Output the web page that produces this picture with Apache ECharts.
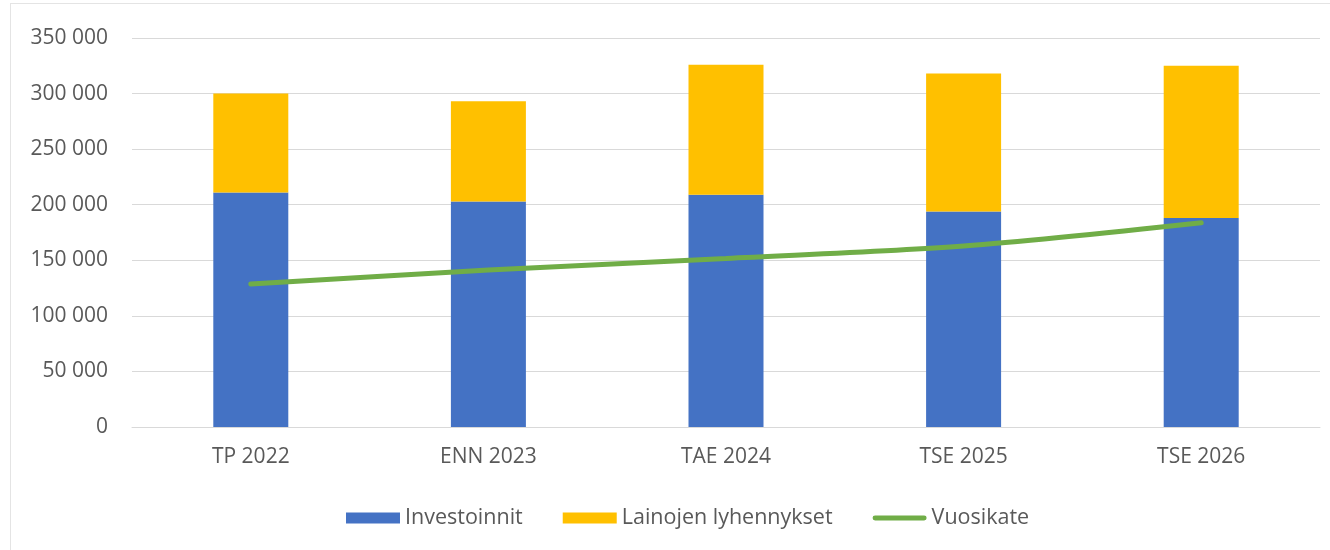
<!DOCTYPE html>
<html>
<head>
  <meta charset="UTF-8">
  <script src="https://cdn.jsdelivr.net/npm/echarts@6/dist/echarts.min.js"></script>
  <style>
    body { margin: 0; background: #fff; }
    #wrap { position: relative; width: 1330px; height: 550px; }
    #frame { position: absolute; left: 10px; top: 3px; right: 0; bottom: 0;
             border-top: 1px solid #e4e4e4; border-left: 1px solid #e4e4e4; }
    #chart { position: absolute; left: 0; top: 0; width: 1330px; height: 550px; }
  </style>
</head>
<body>
  <div id="wrap">
    <div id="frame"></div>
    <div id="chart"></div>
  </div>
  <script>
    var categories = ['TP 2022', 'ENN 2023', 'TAE 2024', 'TSE 2025', 'TSE 2026'];
    var investoinnit = [211000, 203000, 209000, 194000, 188000];
    var lainojenLyhennykset = [89000, 90000, 117000, 124000, 137000];
    var vuosikate = [128600, 141200, 151700, 162800, 183700];

    function fmt(v) {
      return String(v).replace(/\B(?=(\d{3})+(?!\d))/g, ' ');
    }

    // thin line icon for the line series (M points keep the full 54x11 box)
    var lineIcon = 'path://M0,0 M54,11 M2,3 L52,3 A2.5,2.5 0 0 1 52,8 L2,8 A2.5,2.5 0 0 1 2,3 Z';

    var chart = echarts.init(document.getElementById('chart'));
    chart.setOption({
      animation: false,
      textStyle: { fontFamily: 'Open Sans' },
      grid: { left: 132, right: 10, top: 38, bottom: 123 },
      legend: {
        left: 341,
        top: 502,
        itemWidth: 54,
        itemHeight: 11,
        itemGap: 40,
        textStyle: { fontSize: 21.5, color: '#595959', fontFamily: 'Open Sans' },
        data: [
          { name: 'Investoinnit', icon: 'rect' },
          { name: 'Lainojen lyhennykset', icon: 'rect' },
          { name: 'Vuosikate', icon: lineIcon, itemStyle: { color: '#70AD47' } }
        ]
      },
      xAxis: {
        type: 'category',
        data: categories,
        axisTick: { show: false },
        axisLine: { lineStyle: { color: '#d9d9d9', width: 1 } },
        axisLabel: { color: '#595959', fontSize: 21, margin: 20 }
      },
      yAxis: {
        type: 'value',
        min: 0,
        max: 350000,
        interval: 50000,
        axisLine: { show: false },
        axisTick: { show: false },
        splitLine: { lineStyle: { color: '#d9d9d9', width: 1 } },
        axisLabel: { color: '#595959', fontSize: 21, margin: 24, formatter: fmt }
      },
      series: [
        {
          name: 'Investoinnit',
          type: 'bar',
          stack: 'total',
          barWidth: 75,
          itemStyle: { color: '#4472C4' },
          data: investoinnit
        },
        {
          name: 'Lainojen lyhennykset',
          type: 'bar',
          stack: 'total',
          barWidth: 75,
          itemStyle: { color: '#FFC000' },
          data: lainojenLyhennykset
        },
        {
          name: 'Vuosikate',
          type: 'line',
          smooth: 0.3,
          symbol: 'none',
          lineStyle: { color: '#70AD47', width: 5, cap: 'round' },
          itemStyle: { color: '#70AD47' },
          data: vuosikate
        }
      ]
    });
  </script>
</body>
</html>
